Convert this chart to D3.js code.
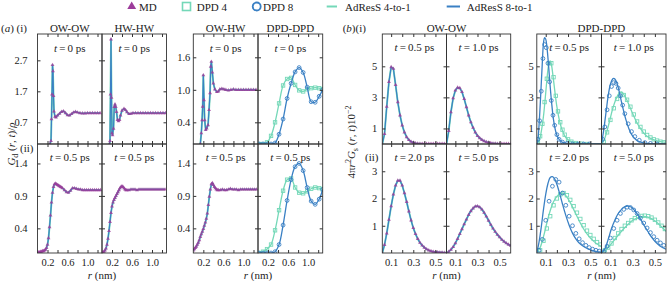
<!DOCTYPE html>
<html>
<head>
<meta charset="utf-8">
<title>Gd and Gs</title>
<script src="https://d3js.org/d3.v7.min.js"></script>
<style>
 body { margin: 0; background: #fff; }
 text { font-family: "Liberation Serif", "Times New Roman", serif; fill: #222; }
 .tl { font-size: 10.5px; }
 .lab { font-size: 11px; }
</style>
</head>
<body>
<div id="chart"></div>
<script>
// ---------- data ----------
var legendLabels = ["MD", "DPD 4", "DPD 8", "AdResS 4-to-1", "AdResS 8-to-1"];

// (a) row (i), t = 0 ps : [r, G/rho]
var aOwOw0 = [[0.25,0],[0.27,0.1],[0.28,0.8],[0.29,1.6],[0.30,2.55],[0.31,2.35],[0.32,1.55],[0.33,1.05],[0.35,0.88],[0.37,0.86],[0.40,0.92],[0.44,0.98],[0.48,1.04],[0.52,1.06],[0.56,1.0],[0.60,0.93],[0.64,0.92],[0.68,0.97],[0.72,1.02],[0.76,1.04],[0.80,1.02],[0.85,1.0],[0.90,0.99],[0.95,0.99],[1.00,1.0],[1.05,1.0],[1.10,1.0],[1.15,1.0],[1.20,1.0],[1.25,1.0]];
var aHwHw0 = [[0.15,0],[0.16,0.1],[0.17,1.6],[0.18,3.38],[0.19,1.5],[0.20,0.35],[0.21,0.29],[0.23,0.5],[0.245,1.2],[0.26,1.28],[0.275,1.2],[0.29,1.04],[0.31,0.78],[0.33,0.74],[0.35,0.78],[0.37,0.92],[0.40,1.08],[0.44,1.14],[0.47,1.1],[0.50,1.03],[0.54,0.97],[0.58,0.98],[0.62,1.0],[0.67,1.0],[0.72,1.0],[0.77,1.0],[0.82,1.0],[0.87,1.0],[0.92,1.0],[0.97,1.0],[1.02,1.0],[1.07,1.0],[1.12,1.0],[1.17,1.0],[1.22,1.0],[1.27,1.0]];
var aOwHw0 = [[0.14,0],[0.16,0.2],[0.175,0.44],[0.187,0.69],[0.20,1.27],[0.214,0.81],[0.227,0.44],[0.247,0.26],[0.267,0.29],[0.294,0.35],[0.314,0.63],[0.334,0.94],[0.347,1.43],[0.36,1.52],[0.38,1.32],[0.40,1.12],[0.43,1.01],[0.47,0.96],[0.50,0.97],[0.53,1.01],[0.57,1.02],[0.61,1.01],[0.65,1.0],[0.70,0.99],[0.75,1.0],[0.80,1.01],[0.85,1.0],[0.90,1.0],[0.95,1.0],[1.00,1.0],[1.05,1.0],[1.10,1.0],[1.15,1.0],[1.20,1.0],[1.25,1.0]];

// DPD-DPD in (a), sampled at rDpdA
var rDpdA = [0.02,0.10,0.18,0.26,0.34,0.42,0.50,0.58,0.66,0.74,0.82,0.90,0.98,1.06,1.14,1.22,1.29];
var aDpd4T0  = [0,0,0.03,0.15,0.4,0.75,1.08,1.2,1.22,1.09,0.99,0.97,1.01,1.03,1.04,1.03,1.01];
var aDpd8T0  = [0,0,0,0,0.02,0.18,0.46,0.84,1.12,1.33,1.41,1.32,1.05,0.78,0.77,0.88,1.0];
var aDpd4T05 = [0.02,0.04,0.08,0.15,0.37,0.68,0.98,1.15,1.17,1.03,0.95,0.94,0.97,1.01,1.03,1.02,1.0];
var aDpd8T05 = [0.02,0.02,0.02,0.02,0.04,0.15,0.45,0.83,1.15,1.35,1.40,1.29,1.03,0.82,0.77,0.85,1.0];

// (a) row (ii), t = 0.5 ps, MD sampled at rMdA
var rMdA = [0,0.02,0.04,0.06,0.08,0.10,0.12,0.14,0.16,0.18,0.20,0.22,0.24,0.26,0.28,0.30,0.32,0.34,0.36,0.38,0.40,0.42,0.44,0.46,0.48,0.50,
            0.54,0.58,0.62,0.66,0.70,0.74,0.78,0.82,0.86,0.90,0.94,0.98,1.02,1.06,1.10,1.14,1.18,1.22,1.26];
var aOwOw05 = [0.03,0.03,0.03,0.04,0.04,0.05,0.05,0.06,0.07,0.1,0.15,0.25,0.42,0.6,0.8,0.95,1.04,1.08,1.09,1.08,1.07,1.06,1.05,1.04,1.03,1.02,
               0.99,0.96,0.95,0.98,1.02,1.02,1.01,1.0,1.0,0.99,0.99,0.99,0.99,0.99,0.99,0.99,0.99,0.99,0.99];
var aHwHw05 = [0.03,0.03,0.04,0.06,0.09,0.15,0.24,0.36,0.5,0.64,0.74,0.8,0.84,0.87,0.9,0.93,0.96,0.99,1.02,1.04,1.05,1.04,1.02,1.0,0.99,0.99,
               0.99,1.0,1.0,1.0,0.99,1.0,1.0,1.0,1.0,1.0,1.0,1.0,1.0,1.0,1.0,1.0,1.0,1.0,1.0];
var aOwHw05 = [0.06,0.08,0.1,0.12,0.15,0.18,0.22,0.27,0.31,0.35,0.39,0.44,0.49,0.55,0.63,0.76,0.89,1.0,1.08,1.1,1.07,1.04,1.02,1.0,0.99,0.99,
               0.99,1.0,0.99,0.99,1.0,1.01,1.0,1.0,1.0,0.99,1.0,1.0,1.0,1.0,1.0,1.0,1.0,1.0,1.0];

// (b) OW-OW self part, MD sampled at rMdB
var rMdB = [0.02,0.04,0.06,0.08,0.10,0.12,0.14,0.16,0.18,0.20,0.22,0.24,0.26,0.28,0.30,0.32,0.34,0.36,0.38,0.40,0.42,0.44,0.46,0.48,0.50,0.52,0.54,0.56,0.58,0.60];
var bOwOw05 = [0,0.65,2.4,4.0,4.95,4.85,3.8,2.7,1.85,1.2,0.75,0.45,0.26,0.15,0.09,0.05,0.03,0.02,0.01,0.01,0.01,0.01,0.01,0.01,0.01,0.01,0.01,0.01,0.01,0.01];
var bOwOw10 = [0,0.85,2.05,2.95,3.45,3.63,3.6,3.35,2.9,2.38,1.85,1.4,1.05,0.75,0.53,0.38,0.27,0.19,0.13,0.09,0.06,0.04,0.03,0.02,0.01,0.01,0.01,0.01,0.01,0.01];
var bOwOw20 = [0,0.3,0.72,1.22,1.72,2.15,2.48,2.66,2.66,2.48,2.2,1.88,1.53,1.2,0.92,0.7,0.52,0.38,0.28,0.2,0.14,0.1,0.07,0.05,0.04,0.03,0.02,0.02,0.01,0.01];
var bOwOw50 = [0,0.05,0.12,0.22,0.36,0.52,0.7,0.88,1.06,1.23,1.4,1.54,1.64,1.71,1.72,1.68,1.6,1.48,1.34,1.19,1.04,0.9,0.78,0.67,0.58,0.49,0.42,0.36,0.31,0.27];

// (b) DPD-DPD : lines (AdResS) and points (DPD), [r, value]
var bAd8T05 = [[0.02,0],[0.03,0.3],[0.045,1.8],[0.06,3.9],[0.07,5.3],[0.08,6.5],[0.09,6.85],[0.10,6.75],[0.11,6.3],[0.125,5.1],[0.14,3.7],[0.155,2.5],[0.17,1.55],[0.19,0.8],[0.21,0.4],[0.24,0.15],[0.28,0.05],[0.35,0.01],[0.45,0],[0.6,0]];
var bDpd8T05 = [[0.03,0.3],[0.045,1.5],[0.06,3.4],[0.075,5.5],[0.09,6.4],[0.105,6.2],[0.12,5.2],[0.135,4.0],[0.15,2.8],[0.165,1.85],[0.18,1.2],[0.2,0.6],[0.22,0.3],[0.25,0.12],[0.29,0.04],[0.34,0.01],[0.39,0],[0.44,0],[0.49,0]];
var bAd4T05 = [[0.02,0],[0.04,0.2],[0.06,0.8],[0.08,1.8],[0.095,2.9],[0.11,4.1],[0.12,4.8],[0.13,5.25],[0.14,5.35],[0.15,5.15],[0.165,4.4],[0.18,3.5],[0.2,2.4],[0.225,1.45],[0.25,0.85],[0.28,0.42],[0.32,0.18],[0.38,0.05],[0.45,0.01],[0.6,0]];
var bDpd4T05 = [[0.03,0.1],[0.05,0.5],[0.07,1.3],[0.09,2.7],[0.11,4.2],[0.13,5.2],[0.15,5.2],[0.17,4.3],[0.19,3.1],[0.21,2.1],[0.23,1.4],[0.25,0.92],[0.27,0.6],[0.3,0.3],[0.33,0.15],[0.37,0.06],[0.42,0.02],[0.47,0]];

var bAd8T10 = [[0.02,0],[0.04,0.9],[0.06,2.0],[0.08,3.1],[0.10,3.85],[0.12,4.18],[0.13,4.22],[0.14,4.18],[0.16,3.9],[0.18,3.35],[0.20,2.7],[0.22,2.1],[0.24,1.55],[0.27,0.92],[0.30,0.5],[0.34,0.22],[0.40,0.07],[0.46,0.02],[0.6,0]];
var bDpd8T10 = [[0.03,0.3],[0.05,1.1],[0.07,2.2],[0.09,3.1],[0.11,3.7],[0.13,3.95],[0.15,3.9],[0.17,3.6],[0.19,3.1],[0.21,2.5],[0.23,1.95],[0.26,1.3],[0.29,0.8],[0.32,0.48],[0.36,0.24],[0.41,0.09],[0.46,0.04],[0.52,0.01]];
var bAd4T10 = [[0.02,0],[0.04,0.2],[0.06,0.6],[0.09,1.4],[0.12,2.25],[0.15,2.88],[0.18,3.28],[0.20,3.35],[0.22,3.2],[0.25,2.8],[0.28,2.3],[0.31,1.8],[0.34,1.35],[0.37,1.0],[0.41,0.62],[0.46,0.36],[0.52,0.2],[0.6,0.1]];
var bDpd4T10 = [[0.04,0.15],[0.07,0.75],[0.10,1.55],[0.13,2.3],[0.16,2.9],[0.19,3.2],[0.22,3.15],[0.25,2.85],[0.28,2.4],[0.31,1.9],[0.34,1.45],[0.37,1.1],[0.40,0.8],[0.43,0.58],[0.46,0.42],[0.49,0.3],[0.52,0.22],[0.55,0.15],[0.58,0.11]];

var bAd8T20 = [[0.02,0],[0.04,0.4],[0.06,0.95],[0.08,1.6],[0.10,2.15],[0.12,2.55],[0.14,2.77],[0.16,2.8],[0.18,2.72],[0.20,2.52],[0.22,2.25],[0.25,1.8],[0.28,1.38],[0.31,1.02],[0.34,0.73],[0.37,0.52],[0.40,0.37],[0.44,0.24],[0.48,0.15],[0.52,0.09],[0.56,0.05],[0.6,0.03]];
var bDpd8T20 = [[0.04,0.1],[0.07,0.5],[0.10,1.2],[0.13,1.9],[0.16,2.45],[0.19,2.7],[0.22,2.6],[0.25,2.2],[0.28,1.75],[0.31,1.35],[0.34,1.0],[0.37,0.72],[0.40,0.52],[0.43,0.38],[0.46,0.28],[0.49,0.2],[0.52,0.14],[0.55,0.1],[0.58,0.07]];
var bAd4T20 = [[0.02,0],[0.05,0.2],[0.08,0.6],[0.11,1.1],[0.14,1.55],[0.17,1.88],[0.20,2.08],[0.23,2.18],[0.26,2.18],[0.29,2.05],[0.32,1.85],[0.35,1.6],[0.38,1.35],[0.41,1.1],[0.44,0.88],[0.47,0.7],[0.50,0.55],[0.53,0.43],[0.56,0.33],[0.6,0.24]];
var bDpd4T20 = [[0.05,0.1],[0.08,0.45],[0.11,0.9],[0.14,1.35],[0.17,1.75],[0.20,2.0],[0.23,2.15],[0.26,2.2],[0.29,2.12],[0.32,1.95],[0.35,1.72],[0.38,1.48],[0.41,1.25],[0.44,1.02],[0.47,0.82],[0.50,0.66],[0.53,0.52],[0.56,0.4],[0.59,0.31]];

var bAd8T50 = [[0.02,0],[0.05,0.15],[0.08,0.5],[0.11,0.9],[0.14,1.2],[0.17,1.45],[0.20,1.6],[0.23,1.7],[0.26,1.72],[0.29,1.68],[0.32,1.55],[0.35,1.38],[0.38,1.18],[0.41,0.97],[0.44,0.77],[0.47,0.58],[0.50,0.43],[0.53,0.31],[0.56,0.22],[0.6,0.14]];
var bDpd8T50 = [[0.04,0.05],[0.07,0.25],[0.10,0.55],[0.13,0.9],[0.16,1.2],[0.19,1.45],[0.22,1.6],[0.25,1.68],[0.28,1.67],[0.31,1.58],[0.34,1.45],[0.37,1.28],[0.40,1.1],[0.43,0.92],[0.46,0.75],[0.49,0.6],[0.52,0.47],[0.55,0.37],[0.58,0.28]];
var bAd4T50 = [[0.02,0],[0.03,0.02],[0.06,0.12],[0.10,0.3],[0.15,0.55],[0.20,0.8],[0.25,1.02],[0.30,1.2],[0.35,1.3],[0.40,1.34],[0.45,1.3],[0.50,1.18],[0.55,1.0],[0.6,0.8]];
var bDpd4T50 = [[0.05,0.1],[0.08,0.2],[0.11,0.35],[0.14,0.55],[0.17,0.72],[0.20,0.88],[0.23,1.0],[0.26,1.1],[0.29,1.2],[0.32,1.28],[0.35,1.33],[0.38,1.36],[0.41,1.37],[0.44,1.35],[0.47,1.3],[0.50,1.22],[0.53,1.12],[0.56,1.0],[0.59,0.88]];

// ---------- drawing ----------
var purple = "#9c3b9a", teal = "#74d8b8", blue = "#3a80c4";

var svg = d3.select("#chart").append("svg").attr("width", 667).attr("height", 281);
svg.append("rect").attr("width", 667).attr("height", 281).attr("fill", "#fff");
var defs = svg.append("defs");
var clipN = 0;

function zip(r, v) { return r.map(function(d, i) { return [d, v[i]]; }); }

function mdSeries(arr) {
  return [
    {data: arr, type: "line", color: teal, w: 1.9},
    {data: arr, type: "line", color: blue, w: 1.2},
    {data: arr, type: "tri"}
  ];
}
function dpdSeries(l4, p4, l8, p8) {
  return [
    {data: l4, type: "line", color: teal, w: 1.3, smooth: true},
    {data: p4, type: "sq"},
    {data: l8, type: "line", color: blue, w: 1.3, smooth: true},
    {data: p8, type: "circ"}
  ];
}

function panel(p) {
  var x = d3.scaleLinear().domain(p.xd).range([p.x0, p.x1]);
  var y = d3.scaleLinear().domain(p.yd).range([p.y1, p.y0]);
  var id = "clip" + (clipN++);
  defs.append("clipPath").attr("id", id).append("rect")
    .attr("x", p.x0).attr("y", p.y0).attr("width", p.x1 - p.x0).attr("height", p.y1 - p.y0);
  var g = svg.append("g").attr("clip-path", "url(#" + id + ")");
  p.series.forEach(function(s) {
    if (s.type === "line") {
      g.append("path").datum(s.data)
        .attr("fill", "none").attr("stroke", s.color).attr("stroke-width", s.w)
        .attr("stroke-linejoin", "round")
        .attr("d", d3.line().x(function(d){ return x(d[0]); }).y(function(d){ return y(d[1]); })
          .curve(s.smooth ? d3.curveCatmullRom.alpha(0.5) : d3.curveLinear));
    } else if (s.type === "tri") {
      g.selectAll(null).data(s.data).join("path")
        .attr("transform", function(d){ return "translate(" + x(d[0]) + "," + y(d[1]) + ")"; })
        .attr("d", d3.symbol(d3.symbolTriangle, 6.5))
        .attr("fill", purple).attr("opacity", 0.8);
    } else if (s.type === "sq") {
      g.selectAll(null).data(s.data).join("rect")
        .attr("x", function(d){ return x(d[0]) - 1.7; }).attr("y", function(d){ return y(d[1]) - 1.7; })
        .attr("width", 3.4).attr("height", 3.4)
        .attr("fill", "none").attr("stroke", teal).attr("stroke-width", 0.9);
    } else if (s.type === "circ") {
      g.selectAll(null).data(s.data).join("circle")
        .attr("cx", function(d){ return x(d[0]); }).attr("cy", function(d){ return y(d[1]); })
        .attr("r", 1.9).attr("fill", "none").attr("stroke", blue).attr("stroke-width", 0.9);
    }
  });

  function ticks(axis, tr) {
    svg.append("g").attr("transform", tr).attr("color", "#333").call(axis)
      .call(function(a){ a.select(".domain").remove(); });
  }
  ticks(d3.axisBottom(x).tickValues(p.xt).tickSize(-3).tickFormat(""), "translate(0," + p.y1 + ")");
  ticks(d3.axisTop(x).tickValues(p.xt).tickSize(-3).tickFormat(""), "translate(0," + p.y0 + ")");
  ticks(d3.axisLeft(y).tickValues(p.yt).tickSize(-3).tickFormat(""), "translate(" + p.x0 + ",0)");
  ticks(d3.axisRight(y).tickValues(p.yt).tickSize(-3).tickFormat(""), "translate(" + p.x1 + ",0)");

  svg.append("rect").attr("x", p.x0).attr("y", p.y0)
    .attr("width", p.x1 - p.x0).attr("height", p.y1 - p.y0)
    .attr("fill", "none").attr("stroke", "#333").attr("stroke-width", 0.9);

  function labels(axis, tr) {
    var a = svg.append("g").attr("transform", tr).attr("color", "#222").call(axis);
    a.select(".domain").remove();
    a.selectAll("text").attr("class", "tl").attr("font-size", null).attr("font-family", null);
  }
  if (p.xl) labels(d3.axisBottom(x).tickValues(p.xl).tickSize(0).tickPadding(6).tickFormat(p.xf), "translate(0," + p.y1 + ")");
  if (p.yl) labels(d3.axisLeft(y).tickValues(p.yl).tickSize(0).tickPadding(p.pad).tickFormat(p.yf), "translate(" + p.x0 + ",0)");

  if (p.t) {
    var t = svg.append("text").attr("class", "lab").attr("text-anchor", "middle")
      .attr("x", (p.x0 + p.x1) / 2).attr("y", p.ty);
    t.append("tspan").attr("font-style", "italic").text("t");
    t.append("tspan").text("\u2009=\u2009" + p.t + " ps");
  }
}

var rowY = [34, 144, 253];
var colA1 = [37.5, 102, 166.5], colA2 = [193.3, 258, 322.7];
var colB1 = [382.3, 446.5, 510.7], colB2 = [536.8, 601.5, 666];
var f1 = d3.format(".1f"), f0 = d3.format("d");
var xdA = [0, 1.29], xdB = [0.02, 0.6];
var xtA = [0.2, 0.4, 0.6, 0.8, 1.0, 1.2], xlA = [0.2, 0.6, 1.0];
var xtB = [0.1, 0.2, 0.3, 0.4, 0.5], xlB = [0.1, 0.3, 0.5];

// (a)(i)
var ydA1 = [0, 3.55], ytA1 = [0.7, 1.7, 2.7];
var ydA2 = [0, 2.03], ytA2 = [0.4, 1.0, 1.6];
var ydA3 = [0.02, 1.70], ytA3 = [0.4, 0.9, 1.4];
panel({x0: colA1[0], x1: colA1[1], y0: rowY[0], y1: rowY[1], xd: xdA, yd: ydA1, xt: xtA, yt: ytA1,
  yl: ytA1, yf: f1, pad: 10, t: "0", ty: 52, series: mdSeries(aOwOw0)});
panel({x0: colA1[1], x1: colA1[2], y0: rowY[0], y1: rowY[1], xd: xdA, yd: ydA1, xt: xtA, yt: ytA1,
  t: "0", ty: 52, series: mdSeries(aHwHw0)});
panel({x0: colA2[0], x1: colA2[1], y0: rowY[0], y1: rowY[1], xd: xdA, yd: ydA2, xt: xtA, yt: ytA2,
  yl: ytA2, yf: f1, pad: 3, t: "0", ty: 52, series: mdSeries(aOwHw0)});
panel({x0: colA2[1], x1: colA2[2], y0: rowY[0], y1: rowY[1], xd: xdA, yd: ydA2, xt: xtA, yt: ytA2,
  t: "0", ty: 52, series: dpdSeries(zip(rDpdA, aDpd4T0), zip(rDpdA, aDpd4T0), zip(rDpdA, aDpd8T0), zip(rDpdA, aDpd8T0))});
// (a)(ii)
panel({x0: colA1[0], x1: colA1[1], y0: rowY[1], y1: rowY[2], xd: xdA, yd: ydA3, xt: xtA, yt: ytA3,
  yl: ytA3, yf: f1, pad: 10, xl: xlA, xf: f1, t: "0.5", ty: 160.5, series: mdSeries(zip(rMdA, aOwOw05))});
panel({x0: colA1[1], x1: colA1[2], y0: rowY[1], y1: rowY[2], xd: xdA, yd: ydA3, xt: xtA, yt: ytA3,
  xl: xlA, xf: f1, t: "0.5", ty: 160.5, series: mdSeries(zip(rMdA, aHwHw05))});
panel({x0: colA2[0], x1: colA2[1], y0: rowY[1], y1: rowY[2], xd: xdA, yd: ydA3, xt: xtA, yt: ytA3,
  yl: ytA3, yf: f1, pad: 3, xl: xlA, xf: f1, t: "0.5", ty: 160.5, series: mdSeries(zip(rMdA, aOwHw05))});
panel({x0: colA2[1], x1: colA2[2], y0: rowY[1], y1: rowY[2], xd: xdA, yd: ydA3, xt: xtA, yt: ytA3,
  xl: xlA, xf: f1, t: "0.5", ty: 160.5,
  series: dpdSeries(zip(rDpdA, aDpd4T05), zip(rDpdA, aDpd4T05), zip(rDpdA, aDpd8T05), zip(rDpdA, aDpd8T05))});

// (b)(i)
var ydB1 = [0, 7.08], ytB1 = [1, 3, 5];
var ydB2 = [0, 4.0], ytB2 = [1, 2, 3];
panel({x0: colB1[0], x1: colB1[1], y0: rowY[0], y1: rowY[1], xd: xdB, yd: ydB1, xt: xtB, yt: ytB1,
  yl: ytB1, yf: f0, pad: 5, t: "0.5", ty: 51, series: mdSeries(zip(rMdB, bOwOw05))});
panel({x0: colB1[1], x1: colB1[2], y0: rowY[0], y1: rowY[1], xd: xdB, yd: ydB1, xt: xtB, yt: ytB1,
  t: "1.0", ty: 51, series: mdSeries(zip(rMdB, bOwOw10))});
panel({x0: colB2[0], x1: colB2[1], y0: rowY[0], y1: rowY[1], xd: xdB, yd: ydB1, xt: xtB, yt: ytB1,
  yl: ytB1, yf: f0, pad: 3, t: "0.5", ty: 51, series: dpdSeries(bAd4T05, bDpd4T05, bAd8T05, bDpd8T05)});
panel({x0: colB2[1], x1: colB2[2], y0: rowY[0], y1: rowY[1], xd: xdB, yd: ydB1, xt: xtB, yt: ytB1,
  t: "1.0", ty: 51, series: dpdSeries(bAd4T10, bDpd4T10, bAd8T10, bDpd8T10)});
// (b)(ii)
panel({x0: colB1[0], x1: colB1[1], y0: rowY[1], y1: rowY[2], xd: xdB, yd: ydB2, xt: xtB, yt: ytB2,
  yl: ytB2, yf: f0, pad: 5, xl: xlB, xf: f1, t: "2.0", ty: 160.5, series: mdSeries(zip(rMdB, bOwOw20))});
panel({x0: colB1[1], x1: colB1[2], y0: rowY[1], y1: rowY[2], xd: xdB, yd: ydB2, xt: xtB, yt: ytB2,
  xl: xlB, xf: f1, t: "5.0", ty: 160.5, series: mdSeries(zip(rMdB, bOwOw50))});
panel({x0: colB2[0], x1: colB2[1], y0: rowY[1], y1: rowY[2], xd: xdB, yd: ydB2, xt: xtB, yt: ytB2,
  yl: ytB2, yf: f0, pad: 3, xl: xlB, xf: f1, t: "2.0", ty: 160.5, series: dpdSeries(bAd4T20, bDpd4T20, bAd8T20, bDpd8T20)});
panel({x0: colB2[1], x1: colB2[2], y0: rowY[1], y1: rowY[2], xd: xdB, yd: ydB2, xt: xtB, yt: ytB2,
  xl: xlB, xf: f1, t: "5.0", ty: 160.5, series: dpdSeries(bAd4T50, bDpd4T50, bAd8T50, bDpd8T50)});

// ---------- titles and labels ----------
function label(x, y, parts, anchor) {
  var t = svg.append("text").attr("class", "lab").attr("x", x).attr("y", y).attr("text-anchor", anchor || "start");
  parts.forEach(function(p) {
    var s = t.append("tspan").text(p[0]);
    if (p[1] === "i") s.attr("font-style", "italic");
  });
  return t;
}
label(1, 31.5, [["("], ["a", "i"], [") (i)"]]);
label(20, 152, [["(ii)"]]);
label(342.7, 31.5, [["("], ["b", "i"], [")(i)"]]);
label(365, 160.5, [["(ii)"]]);
label((colA1[0] + colA1[1]) / 2, 31.5, [["OW-OW"]], "middle");
label((colA1[1] + colA1[2]) / 2, 31.5, [["HW-HW"]], "middle");
label((colA2[0] + colA2[1]) / 2, 31.5, [["OW-HW"]], "middle");
label((colA2[1] + colA2[2]) / 2, 31.5, [["DPD-DPD"]], "middle");
label((colB1[0] + colB1[2]) / 2, 31.5, [["OW-OW"]], "middle");
label((colB2[0] + colB2[2]) / 2, 31.5, [["DPD-DPD"]], "middle");
[colA1[1], colA2[1], colB1[1], colB2[1]].forEach(function(cx) {
  label(cx, 278.5, [["r", "i"], [" (nm)"]], "middle");
});

// y axis titles
var ya = svg.append("text").attr("class", "lab").attr("text-anchor", "middle")
  .attr("transform", "translate(15,144) rotate(-90)");
ya.append("tspan").attr("font-style", "italic").text("G");
ya.append("tspan").attr("font-size", "8px").attr("dy", 2.5).text("d");
ya.append("tspan").attr("dy", -2.5).text(" (");
ya.append("tspan").attr("font-style", "italic").text("r");
ya.append("tspan").text(", ");
ya.append("tspan").attr("font-style", "italic").text("t");
ya.append("tspan").text(")/");
ya.append("tspan").attr("font-style", "italic").text("\u03c1");

var yb = svg.append("text").attr("class", "lab").attr("text-anchor", "middle")
  .attr("transform", "translate(355,142) rotate(-90)");
yb.append("tspan").text("4\u03c0");
yb.append("tspan").attr("font-style", "italic").text("r");
yb.append("tspan").attr("font-size", "8px").attr("dy", -4).text("2");
yb.append("tspan").attr("font-style", "italic").attr("dy", 4).text("G");
yb.append("tspan").attr("font-size", "8px").attr("dy", 2.5).text("s");
yb.append("tspan").attr("dy", -2.5).text(" (");
yb.append("tspan").attr("font-style", "italic").text("r");
yb.append("tspan").text(", ");
yb.append("tspan").attr("font-style", "italic").text("t");
yb.append("tspan").text(")10");
yb.append("tspan").attr("font-size", "8px").attr("dy", -4).text("\u22122");

// ---------- legend ----------
var lg = svg.append("g");
lg.append("path").attr("transform", "translate(131.7,6.5)").attr("d", d3.symbol(d3.symbolTriangle, 34)).attr("fill", purple);
lg.append("rect").attr("x", 182.5).attr("y", 2.5).attr("width", 8).attr("height", 8)
  .attr("fill", "none").attr("stroke", teal).attr("stroke-width", 1.6);
lg.append("circle").attr("cx", 256.7).attr("cy", 6.5).attr("r", 4)
  .attr("fill", "none").attr("stroke", blue).attr("stroke-width", 1.8);
lg.append("line").attr("x1", 326.7).attr("x2", 337).attr("y1", 6.5).attr("y2", 6.5).attr("stroke", teal).attr("stroke-width", 2);
lg.append("line").attr("x1", 446.7).attr("x2", 460).attr("y1", 6.5).attr("y2", 6.5).attr("stroke", blue).attr("stroke-width", 2);
[139, 196.7, 263, 345, 466.7].forEach(function(lx, i) {
  lg.append("text").attr("class", "lab").attr("x", lx).attr("y", 10.5).text(legendLabels[i]);
});
</script>
</body>
</html>
